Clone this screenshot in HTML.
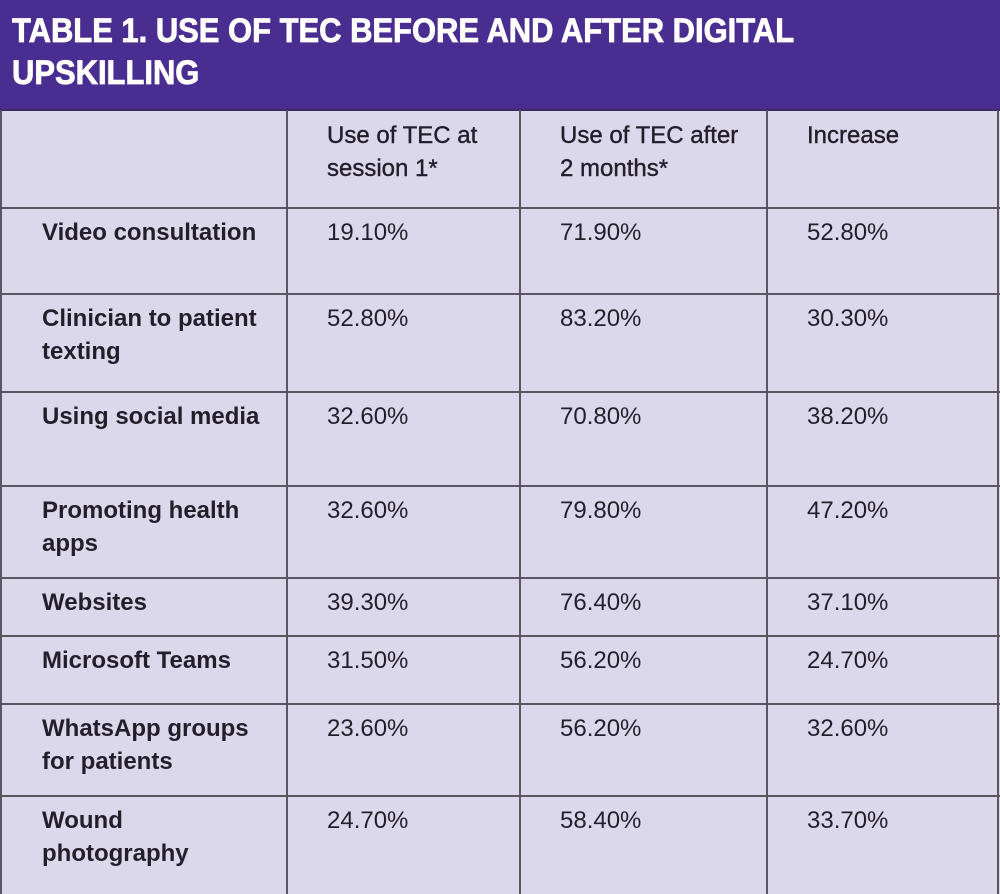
<!DOCTYPE html>
<html><head><meta charset="utf-8"><style>
body{margin:0;width:1000px;height:894px;background:#dcd8eb;position:relative;overflow:hidden;font-family:"Liberation Sans",sans-serif;color:#231f2a}
#hdr{position:absolute;left:0;top:0;width:1000px;height:109px;background:#4a2d91;border-bottom:2px solid #3a2a5e}
#title{position:absolute;left:12px;top:10px;color:#fff;font-weight:bold;font-size:34px;line-height:42px;transform:scaleX(0.91);transform-origin:left top;white-space:nowrap;-webkit-text-stroke:0.8px #fff}
.h{position:absolute;height:2px;background:#5a5560;left:0;width:1000px}
.v{position:absolute;width:2px;background:#5a5560;top:110px;height:784px}
.c{position:absolute;font-size:24px;line-height:33px;white-space:nowrap}
.b{font-weight:bold}
.hd{-webkit-text-stroke:0.4px #231f2a}
</style></head><body>
<div id="hdr"><div id="title">TABLE 1. USE OF TEC BEFORE AND AFTER DIGITAL<br>UPSKILLING</div></div>
<div id="grid"></div>
<div id="cells"></div>
<script>
const rowLabels=["Video consultation","Clinician to patient<br>texting","Using social media","Promoting health<br>apps","Websites","Microsoft Teams","WhatsApp groups<br>for patients","Wound<br>photography"];
const session1=["19.10%","52.80%","32.60%","32.60%","39.30%","31.50%","23.60%","24.70%"];
const after2m=["71.90%","83.20%","70.80%","79.80%","76.40%","56.20%","56.20%","58.40%"];
const increase=["52.80%","30.30%","38.20%","47.20%","37.10%","24.70%","32.60%","33.70%"];
const headers=["","Use of TEC at<br>session 1*","Use of TEC after<br>2 months*","Increase"];
const rowY=[110,208,294,392,486,578,636,704,796,894];
const textX=[42,327,560,807];
const g=document.getElementById('grid');
rowY.slice(1,-1).forEach(y=>{const d=document.createElement('div');d.className='h';d.style.top=(y-1)+'px';


g.appendChild(d);});
[0,287,520,767,998].forEach(x=>{const d=document.createElement('div');d.className='v';d.style.left=(x===0?0:x-1)+'px';


g.appendChild(d);});
const cs=document.getElementById('cells');
function cell(txt,col,top,cls,name){const d=document.createElement('div');d.className='c '+cls;d.innerHTML=txt;d.style.left=textX[col]+'px';d.style.top=top+'px';


cs.appendChild(d);}
headers.forEach((h,i)=>{if(h)cell(h,i,rowY[0]+9,'hd','column-header');});
rowLabels.forEach((l,r)=>{const t=rowY[r+1]+8;
cell(l,0,t,'b','row-label');
cell(session1[r],1,t,'','session1-value');
cell(after2m[r],2,t,'','after-2-months-value');
cell(increase[r],3,t,'','increase-value');});
</script>
</body></html>
